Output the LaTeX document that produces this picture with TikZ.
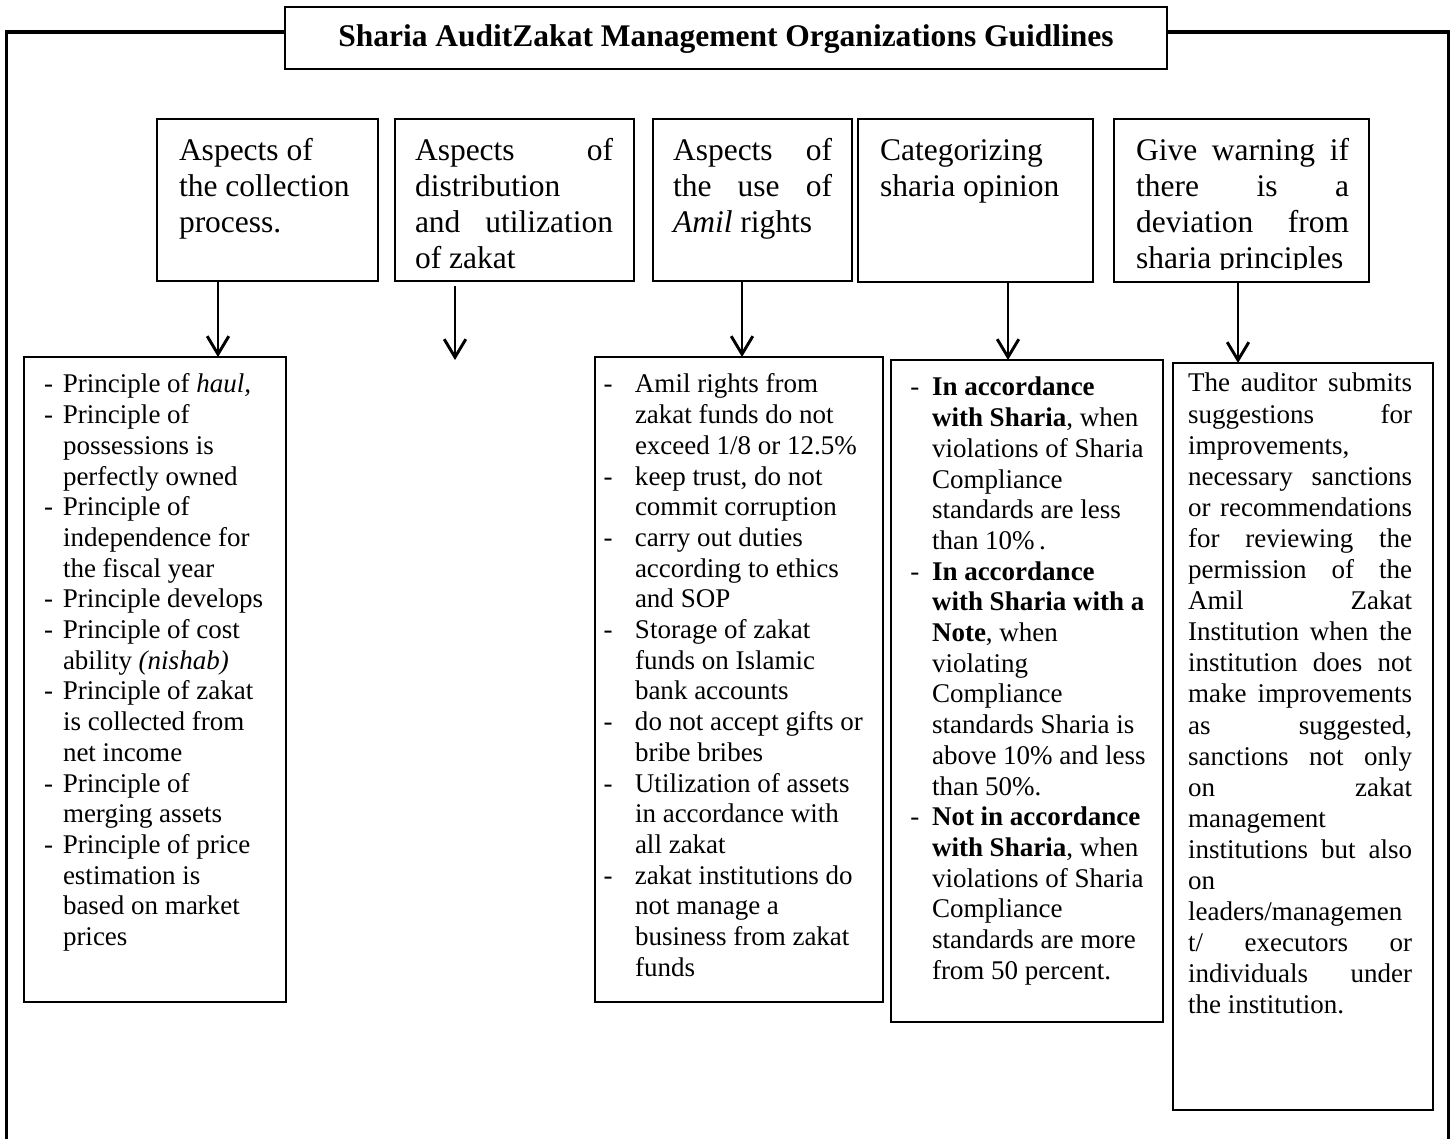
\documentclass[tikz,border=0pt]{standalone}
\usepackage{fontspec}
\setmainfont{Liberation Serif}
\usetikzlibrary{fit,arrows.meta}
\newlength\jw
\newcommand\jl[1]{\makebox[\jw][s]{#1}}
\newcommand\rsp{\spaceskip=0pt\xspaceskip=0pt\relax}
\newcommand\hyA{\leavevmode\llap{-\hspace{4.4pt}}}
\newcommand\hyB{\leavevmode\llap{-\hspace{10pt}}}
\newcommand\hyC{\leavevmode\llap{-\hspace{5.6pt}}}
\tikzset{
  box/.style={draw, line width=1pt, inner sep=0pt, outer sep=0pt},
  frameline/.style={line width=1.35pt},
  jwidth/.code={\global\jw=#1\relax},
  toptext/.style={font=\fontsize{14}{16}\selectfont, align=left, inner sep=0pt, outer sep=0pt, anchor=north west},
  lowtext/.style={font=\fontsize{12}{13.64}\selectfont, align=left, inner sep=0pt, outer sep=0pt, anchor=north west},
  arr/.style={line width=1.3pt, -{Straight Barb[length=8pt,width=9.6pt]}}
}
\begin{document}
\begin{tikzpicture}[x=0.4444pt,y=-0.4444pt]
\useasboundingbox (0,0) rectangle (1451,1139);
% title box
\node[box, line width=1.1pt, fit={(285,7) (1167,69)}] (title) {};
\node[font=\bfseries\fontsize{14}{16}\selectfont, anchor=base, inner sep=0pt] (titletext) at (726,46.5) {Sharia AuditZakat Management Organizations Guidlines};
% frame
\coordinate (ftl) at (6.5,32);
\coordinate (ftr) at (1448.5,32);
\coordinate (fbl) at (6.5,1139);
\coordinate (fbr) at (1448.5,1139);
\draw[frameline] (title.west |- ftl) -- (ftl) -- (fbl);
\draw[frameline] (title.east |- ftr) -- (ftr) -- (fbr);
% top boxes
\node[box, fit={(157,119) (378,281)}] (b1) {};
\node[box, fit={(395,119) (634,281)}] (b2) {};
\node[box, fit={(653,119) (852,281)}] (b3) {};
\node[box, fit={(858,119) (1093,282)}] (b4) {};
\node[box, fit={(1114,119) (1369,282)}] (b5) {};
\node[toptext, text width=200*0.4444pt] (t1) at (179,134.8) {\rsp\strut Aspects of\\the collection\\process.};
\node[toptext, jwidth=88pt, text width=88pt] (t2) at (415,134.8) {\rsp\strut\jl{Aspects of}\\distribution\\\jl{and utilization}\\of zakat};
\node[toptext, jwidth=70.7pt, text width=70.7pt] (t3) at (673,134.8) {\rsp\strut\jl{Aspects of}\\\jl{the use of}\\\textit{Amil} rights};
\node[toptext, text width=190*0.4444pt] (t4) at (880,134.8) {\rsp\strut Categorizing\\sharia opinion};
\begin{scope}
\clip (1114,119) rectangle (1369,269.5);
\node[toptext, jwidth=94.7pt, text width=94.7pt] (t5) at (1136,134.8) {\rsp\strut\jl{Give warning if}\\\jl{there is a}\\\jl{deviation from}\\sharia principles};
\end{scope}
% lower boxes
\node[box, fit={(24,357) (286,1002)}] (l1) {};
\node[box, fit={(595,357) (883,1002)}] (l3) {};
\node[box, fit={(891,360) (1163,1022)}] (l4) {};
\node[box, fit={(1173,363) (1433,1110)}] (l5) {};
\node[lowtext, text width=97.8pt] (u1) at (63,371.5) {\rsp\strut\hyA Principle of \textit{haul,}\\
\hyA Principle of\\possessions is\\perfectly owned\\
\hyA Principle of\\independence for\\the fiscal year\\
\hyA Principle develops\\
\hyA Principle of cost\\ability \textit{(nishab)}\\
\hyA Principle of zakat\\is collected from\\net income\\
\hyA Principle of\\merging assets\\
\hyA Principle of price\\estimation is\\based on market\\prices};
\node[lowtext, text width=106pt] (u3) at (635,371.5) {\rsp\strut\hyB Amil rights from\\zakat funds do not\\exceed 1/8 or 12.5\%\\
\hyB keep trust, do not\\commit corruption\\
\hyB carry out duties\\according to ethics\\and SOP\\
\hyB Storage of zakat\\funds on Islamic\\bank accounts\\
\hyB do not accept gifts or\\bribe bribes\\
\hyB Utilization of assets\\in accordance with\\all zakat\\
\hyB zakat institutions do\\not manage a\\business from zakat\\funds};
\node[lowtext, text width=100pt] (u4) at (932,374.5) {\rsp\strut\hyC\textbf{In accordance}\\\textbf{with Sharia}, when\\violations of Sharia\\Compliance\\standards are less\\than 10\%\,.\\
\hyC\textbf{In accordance}\\\textbf{with Sharia with a}\\\textbf{Note}, when\\violating\\Compliance\\standards Sharia is\\above 10\% and less\\than 50\%.\\
\hyC\textbf{Not in accordance}\\\textbf{with Sharia}, when\\violations of Sharia\\Compliance\\standards are more\\from 50 percent.};
\node[lowtext, font=\fontsize{12}{13.82}\selectfont, jwidth=99.6pt, text width=99.6pt] (u5) at (1188,370.2) {\rsp\strut\jl{The auditor submits}\\
\jl{suggestions for}\\
improvements,\\
\jl{necessary sanctions}\\
\jl{or recommendations}\\
\jl{for reviewing the}\\
\jl{permission of the}\\
\jl{Amil Zakat}\\
\jl{Institution when the}\\
\jl{institution does not}\\
\jl{make improvements}\\
\jl{as suggested,}\\
\jl{sanctions not only}\\
\jl{on zakat}\\
management\\
\jl{institutions but also}\\
on\\
leaders/managemen\\
\jl{t/ executors or}\\
\jl{individuals under}\\
the institution.};
% arrows
\coordinate (ax1) at (218,0);
\coordinate (ax3) at (742,0);
\coordinate (ax4) at (1008,0);
\coordinate (ax5) at (1238,0);
\coordinate (s2) at (455,286);
\coordinate (e2) at (455,360);
\draw[arr] (ax1 |- b1.south) -- (ax1 |- l1.north);
\draw[arr] (s2) -- (e2);
\draw[arr] (ax3 |- b3.south) -- (ax3 |- l3.north);
\draw[arr] (ax4 |- b4.south) -- (ax4 |- l4.north);
\draw[arr] (ax5 |- b5.south) -- (ax5 |- l5.north);
\end{tikzpicture}
\end{document}
